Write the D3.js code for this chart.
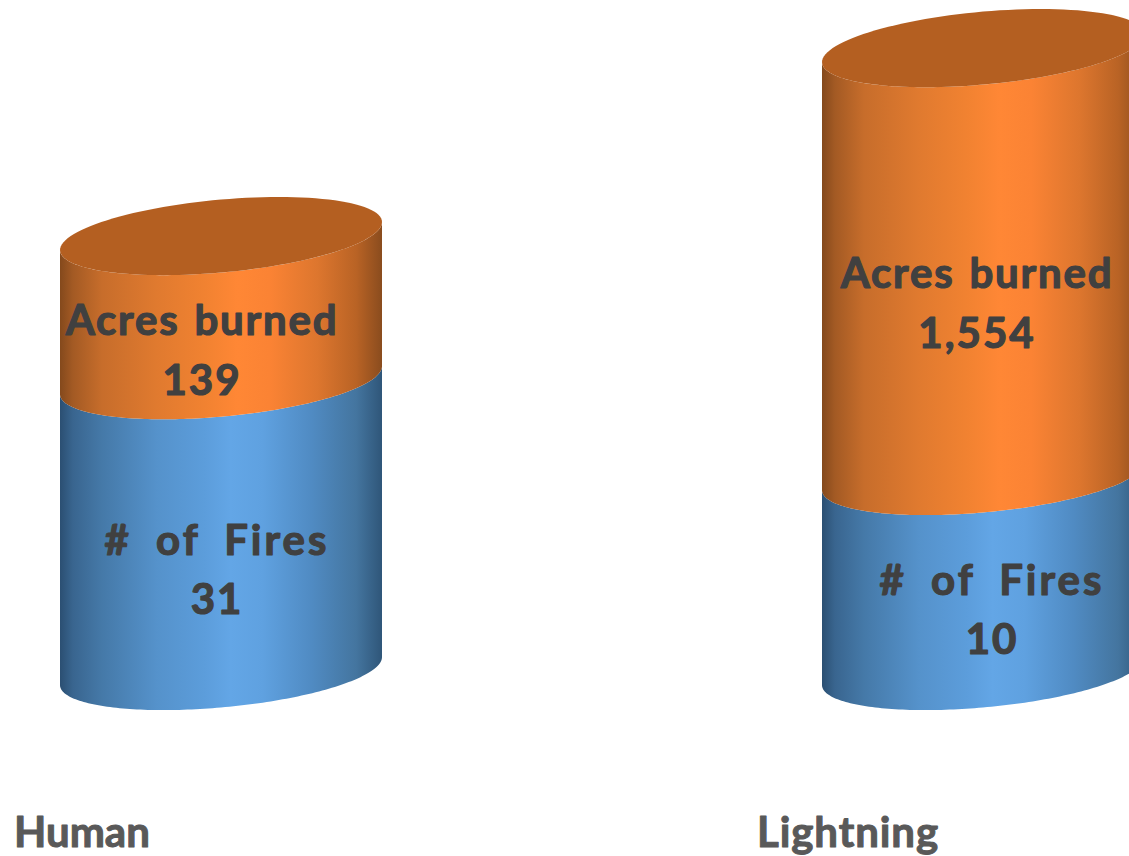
<!DOCTYPE html>
<html><head><meta charset="utf-8">
<script src="https://cdn.jsdelivr.net/npm/d3@7"></script>
<style>html,body{margin:0;padding:0;background:#fff;overflow:hidden}svg{display:block}
text{font-family:"Comic Sans MS","Lato","Open Sans",sans-serif;font-weight:700;stroke-linejoin:round}</style>
</head><body><svg id="c" width="1129" height="856"></svg>
<script>
const categories = ["Human", "Lightning"];
const seriesNames = ["# of Fires", "Acres burned"];
const fires = [31, 10];
const acres = [139, 1554];
const fmt = d3.format(",");

const W = 1129, H = 856;
const rx = 161, ry = 36.5, tilt = 14;
const svg = d3.select("#c");
const x = d3.scalePoint().domain(categories).range([221, 983]);
const y = d3.scaleLog().domain([1, 10000]).range([671, -109]);

const defs = svg.append("defs");
function grad(id, stops) {
  const g = defs.append("linearGradient").attr("id", id).attr("x1", 0).attr("x2", 1).attr("y1", 0).attr("y2", 0);
  stops.forEach(([o, c]) => g.append("stop").attr("offset", o).attr("stop-color", c));
}
grad("gBlue", [[0, "#2b4f72"], [.04, "#39658f"], [.13, "#4579a8"], [.3, "#5592cb"], [.45, "#5c9ddb"], [.53, "#63a6e6"], [.63, "#5fa1e0"], [.78, "#508bc3"], [.92, "#44759f"], [1, "#2f5679"]]);
grad("gOrange", [[0, "#84491c"], [.04, "#a35a24"], [.13, "#c76d2b"], [.3, "#e07a2f"], [.45, "#f18231"], [.55, "#ff8735"], [.65, "#fb8334"], [.8, "#dd762e"], [.92, "#b96325"], [1, "#8a4c1e"]]);

const line = d3.line();
const pt = (cx, cy, t) => [cx + rx * Math.cos(t), cy + ry * Math.sin(t) - tilt * Math.cos(t)];
const arc = (cx, cy, a0, a1) => d3.range(0, 121).map(i => pt(cx, cy, a0 + (a1 - a0) * i / 120));

const labelOffsets = { // [dx, dy of the first baseline] from the bar centre and the segment middle
  "Human|0": [-4, 29], "Human|1": [-19, 27],
  "Lightning|0": [9, 21], "Lightning|1": [-6, 26]
};
const nameSpacing = [{ letter: 3, word: 11 }, { letter: 1.8, word: 3 }];

categories.forEach((cat, i) => {
  const cx = x(cat);
  const stack = [[1, fires[i], "gBlue", fires[i], 0], [fires[i], fires[i] + acres[i], "gOrange", acres[i], 1]];
  stack.forEach(([v0, v1, fill]) => {
    const p = arc(cx, y(v0), Math.PI, 0).concat(arc(cx, y(v1), 0, Math.PI));
    svg.append("path").attr("d", line(p) + "Z").attr("fill", `url(#${fill})`);
  });
  const topY = y(fires[i] + acres[i]);
  svg.append("path").attr("d", line(arc(cx, topY, 0, 2 * Math.PI)) + "Z").attr("fill", "#b45f21");
  stack.forEach(([v0, v1, , val, s]) => {
    const [dx, dy] = labelOffsets[cat + "|" + s];
    const tx = cx + dx, ty = (y(v0) + y(v1)) / 2 + dy;
    const base = sel => sel.attr("x", tx).attr("text-anchor", "middle").attr("font-size", 42)
      .attr("fill", "#404040").attr("stroke", "#404040").attr("stroke-width", 1.2);
    svg.append("text").call(base).attr("y", ty)
      .attr("letter-spacing", nameSpacing[s].letter).attr("word-spacing", nameSpacing[s].word).text(seriesNames[s]);
    svg.append("text").call(base).attr("y", ty + 59.5).attr("letter-spacing", 2).text(fmt(val));
  });
});

const catLabelX = { Human: 14, Lightning: 757 };
const catSpacing = { Human: 0, Lightning: 0.9 };
svg.selectAll("text.cat").data(categories).join("text").attr("class", "cat")
  .attr("x", d => catLabelX[d]).attr("y", 847).attr("font-size", 42)
  .attr("letter-spacing", d => catSpacing[d])
  .attr("fill", "#595959").attr("stroke", "#595959").attr("stroke-width", 1).text(d => d);
</script></body></html>
